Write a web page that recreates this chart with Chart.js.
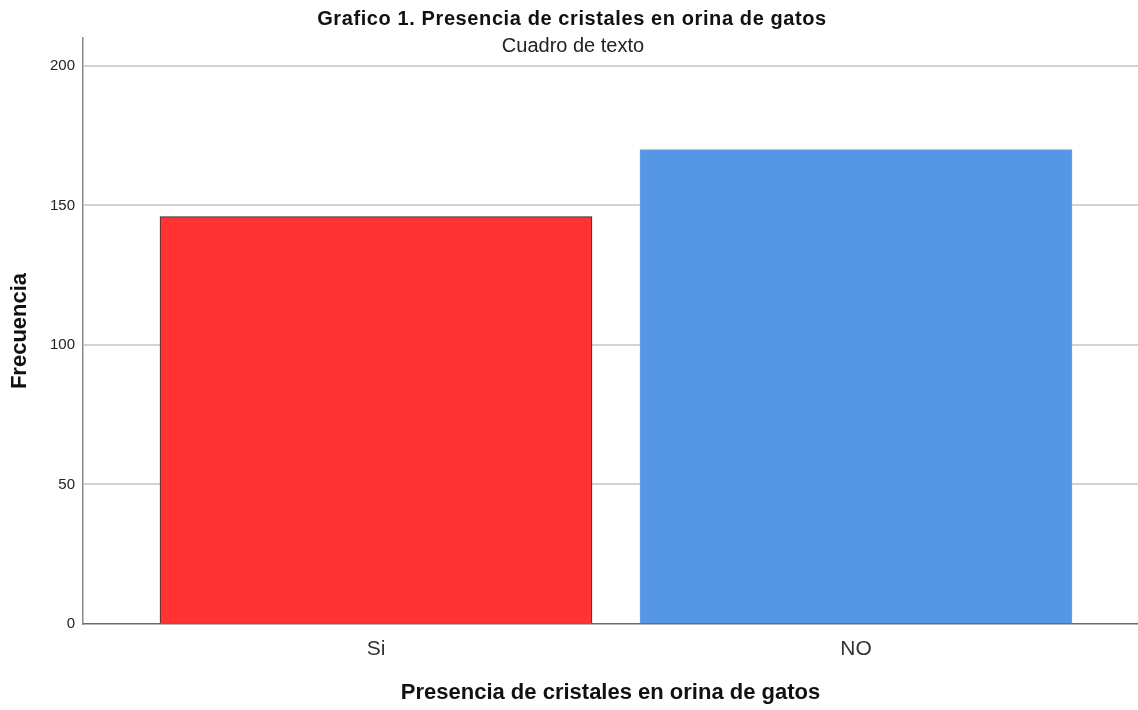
<!DOCTYPE html>
<html>
<head>
<meta charset="utf-8">
<script src="https://cdn.jsdelivr.net/npm/chart.js@4/dist/chart.umd.min.js"></script>
<style>
    html, body { margin: 0; padding: 0; background: #ffffff; }
    #wrap { width: 1138px; height: 710px; }
</style>
</head>
<body>
<div id="wrap"><canvas id="chart"></canvas></div>
<script>
// Data
const categories = ["Si", "NO"];
const frecuencias = [146, 170];
const yTicks = [0, 50, 100, 150, 200];

const chartTitle = "Grafico 1. Presencia de cristales en orina de gatos";
const chartSubtitle = "Cuadro de texto";
const xTitle = "Presencia de cristales en orina de gatos";
const yTitle = "Frecuencia";

const barColors = ["#ff3333", "#5596e5"];
const barBorders = ["#2e2e2e", "#6aa3ea"];

// Title + subtitle drawn at fixed spots (subtitle sits inside the plot area like the original)
const headerPlugin = {
    id: "header",
    afterDraw(chart) {
        const ctx = chart.ctx;
        ctx.save();
        ctx.textAlign = "center";
        ctx.textBaseline = "middle";
        ctx.fillStyle = "#111111";
        ctx.letterSpacing = "0.6px";
        ctx.font = "bold 20px 'Liberation Sans', Arial, sans-serif";
        ctx.fillText(chartTitle, 572, 19);
        ctx.letterSpacing = "0px";
        ctx.font = "20px 'Liberation Sans', Arial, sans-serif";
        ctx.fillStyle = "#222222";
        ctx.fillText(chartSubtitle, 573, 46);
        ctx.restore();
    }
};

const ctx = document.getElementById("chart").getContext("2d");
new Chart(ctx, {
    type: "bar",
    data: {
        datasets: [{
            data: frecuencias.map((v, i) => ({ x: i, y: v })),
            backgroundColor: barColors,
            borderColor: barBorders,
            borderWidth: 1,
            barThickness: 432
        }]
    },
    options: {
        responsive: true,
        maintainAspectRatio: false,
        animation: false,
        layout: { padding: { top: 38, right: 0, left: 0, bottom: 0 } },
        plugins: {
            legend: { display: false },
            tooltip: { enabled: false }
        },
        scales: {
            x: {
                type: "linear",
                offset: false,
                min: -0.6104,
                max: 1.5875,
                afterBuildTicks: (scale) => {
                    scale.ticks = categories.map((c, i) => ({ value: i }));
                },
                afterFit: (scale) => { scale.height = 86; },
                grid: { display: false, drawTicks: false, offset: false },
                border: { display: true, color: "#6b6b6b", width: 1.5 },
                ticks: {
                    padding: 13,
                    color: "#333333",
                    font: { family: "'Liberation Sans', Arial, sans-serif", size: 21 },
                    callback: (v) => categories[v] !== undefined ? categories[v] : ""
                },
                title: {
                    display: true,
                    text: xTitle,
                    color: "#111111",
                    font: { family: "'Liberation Sans', Arial, sans-serif", size: 22, weight: "bold" },
                    padding: { top: 0, bottom: 4 }
                }
            },
            y: {
                min: 0,
                max: 210,
                afterBuildTicks: (scale) => {
                    scale.ticks = yTicks.map(v => ({ value: v }));
                },
                afterFit: (scale) => { scale.width = 83; },
                grid: {
                    drawTicks: false,
                    color: (c) => c.tick && c.tick.value === 0 ? "rgba(0,0,0,0)" : "#d2d2d2",
                    lineWidth: 2
                },
                border: { display: true, color: "#8a8a8a", width: 1.5 },
                ticks: {
                    padding: 8,
                    color: "#222222",
                    font: { family: "'Liberation Sans', Arial, sans-serif", size: 15 }
                },
                title: {
                    display: true,
                    text: yTitle,
                    color: "#111111",
                    font: { family: "'Liberation Sans', Arial, sans-serif", size: 22, weight: "bold" },
                    padding: { top: 7, bottom: 0 }
                }
            }
        }
    },
    plugins: [headerPlugin]
});
</script>
</body>
</html>
